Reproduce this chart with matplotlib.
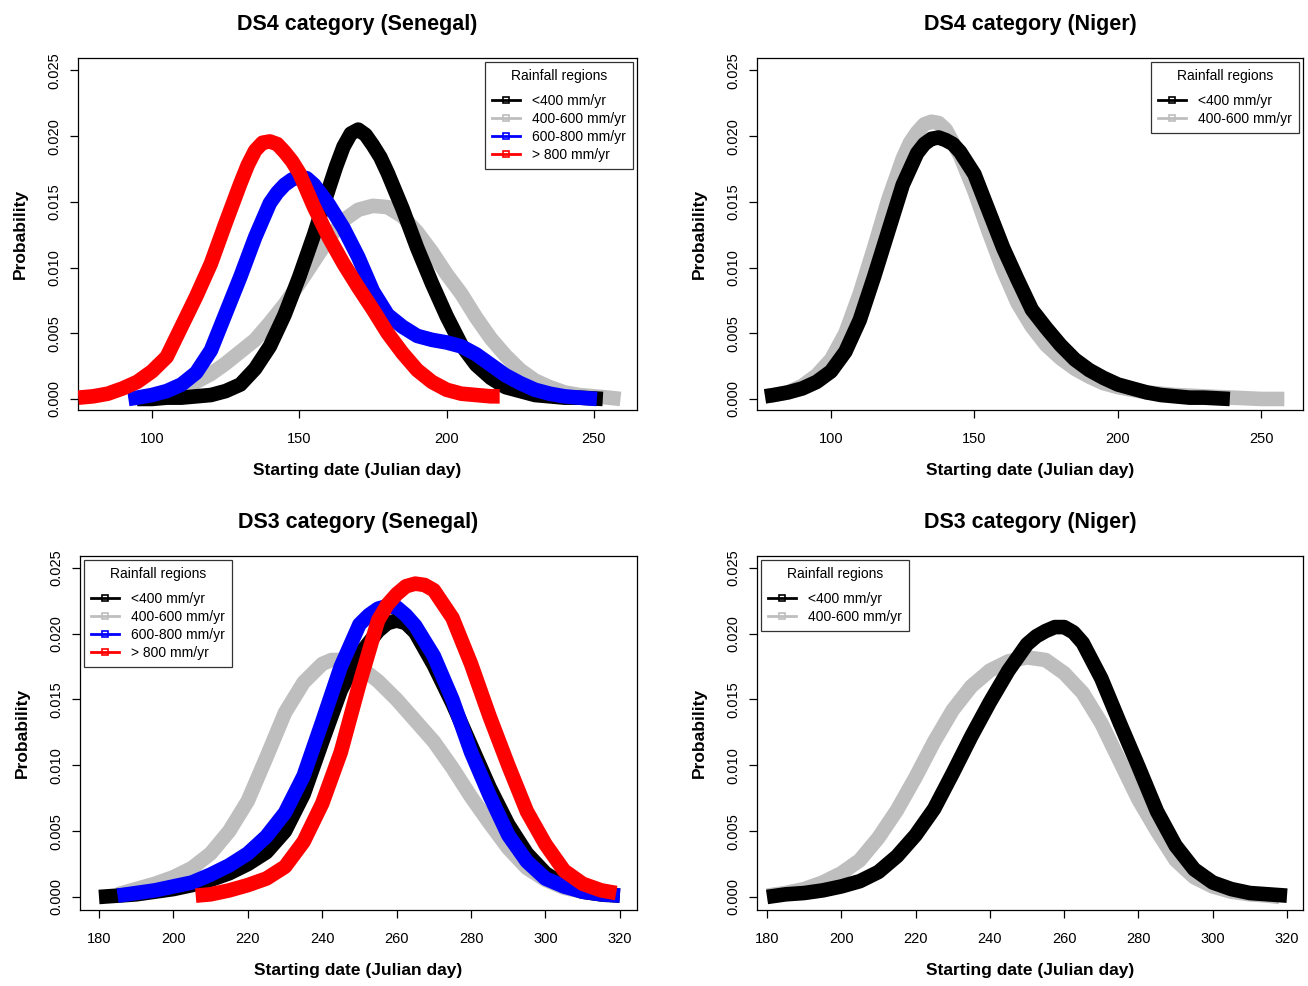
import matplotlib
matplotlib.use("Agg")
import matplotlib.pyplot as plt
from matplotlib.lines import Line2D

plt.rcParams['font.family'] = ['Liberation Sans', 'DejaVu Sans']

# ---------------- data ----------------
# DS4 Senegal
sen4_x_black = [95, 100, 105, 110, 115, 120, 125, 130, 135, 140, 145, 150, 155, 160, 162.5, 165, 167.5, 170,
                172.5, 175, 177.5, 180, 185, 190, 195, 200, 205, 210, 215, 220, 225, 230, 235, 240, 245, 253]
sen4_y_black = [0.0000, 0.0000, 0.0001, 0.0001, 0.0002, 0.0003, 0.0006, 0.0011, 0.0023, 0.0040, 0.0064,
                0.0093, 0.0125, 0.0160, 0.0177, 0.0192, 0.0202, 0.0205, 0.0201, 0.0193, 0.0184, 0.0172,
                0.0145, 0.0115, 0.0088, 0.0063, 0.0041, 0.0026, 0.0016, 0.0009, 0.0006, 0.0003, 0.0002,
                0.0001, 0.0001, 0.0000]
sen4_x_gray = [95, 100, 105, 110, 115, 120, 125, 130, 135, 140, 145, 150, 155, 160, 165, 170, 175, 180,
               185, 190, 195, 200, 205, 210, 215, 220, 225, 230, 235, 240, 245, 250, 255, 259]
sen4_y_gray = [0.0000, 0.0002, 0.0004, 0.0008, 0.0013, 0.0019, 0.0027, 0.0036, 0.0045, 0.0058, 0.0072,
               0.0088, 0.0105, 0.0122, 0.0136, 0.0144, 0.0147, 0.0146, 0.0139, 0.0127, 0.0112, 0.0095,
               0.0080, 0.0062, 0.0046, 0.0033, 0.0022, 0.0014, 0.0009, 0.0005, 0.0003, 0.0002, 0.0001, 0.0000]
sen4_x_blue = [92, 95, 100, 105, 110, 115, 120, 125, 130, 135, 140, 142.5, 145, 147.5, 150, 152.5, 155, 160,
               165, 170, 175, 180, 185, 190, 195, 200, 205, 210, 215, 220, 225, 230, 235, 240, 245, 251]
sen4_y_blue = [0.0000, 0.0001, 0.0003, 0.0006, 0.0011, 0.0020, 0.0037, 0.0065, 0.0093, 0.0123, 0.0149,
               0.0157, 0.0163, 0.0167, 0.0169, 0.0168, 0.0163, 0.0148, 0.0130, 0.0108, 0.0082, 0.0064,
               0.0055, 0.0048, 0.0045, 0.0043, 0.0040, 0.0034, 0.0026, 0.0018, 0.0012, 0.0007, 0.0004,
               0.0002, 0.0001, 0.0000]
sen4_x_red = [75, 80, 85, 90, 95, 100, 105, 110, 115, 120, 125, 130, 132.5, 135, 137.5, 140, 142.5, 145,
              147.5, 150, 155, 160, 165, 170, 175, 180, 185, 190, 195, 200, 205, 210, 215, 218]
sen4_y_red = [0.0001, 0.0002, 0.0004, 0.0008, 0.0013, 0.0021, 0.0032, 0.0055, 0.0078, 0.0103, 0.0134,
              0.0164, 0.0178, 0.0189, 0.0195, 0.0196, 0.0194, 0.0188, 0.0181, 0.0172, 0.0146, 0.0123,
              0.0103, 0.0085, 0.0068, 0.0050, 0.0035, 0.0022, 0.0013, 0.0007, 0.0004, 0.0003, 0.0002, 0.0002]

# DS4 Niger
nig4_x_black = [77, 80, 85, 90, 95, 100, 105, 110, 115, 120, 125, 130, 132.5, 135, 137.5, 140, 142.5, 145,
                150, 155, 160, 165, 170, 175, 180, 185, 190, 195, 200, 205, 210, 215, 220, 225, 230, 239]
nig4_y_black = [0.0002, 0.0003, 0.0005, 0.0008, 0.0013, 0.0021, 0.0036, 0.0060, 0.0093, 0.0128, 0.0163,
                0.0187, 0.0194, 0.0198, 0.0199, 0.0197, 0.0194, 0.0188, 0.0171, 0.0143, 0.0115, 0.0091,
                0.0068, 0.0054, 0.0041, 0.0030, 0.0022, 0.0016, 0.0011, 0.0008, 0.0005, 0.0003, 0.0002,
                0.0001, 0.0001, 0.0000]
nig4_x_gray = [77, 80, 85, 90, 95, 100, 105, 110, 115, 120, 125, 127.5, 130, 132.5, 135, 137.5, 140, 145,
               150, 155, 160, 165, 170, 175, 180, 185, 190, 195, 200, 210, 220, 230, 240, 250, 258]
nig4_y_gray = [0.0002, 0.0003, 0.0005, 0.0010, 0.0018, 0.0030, 0.0050, 0.0080, 0.0115, 0.0152, 0.0183,
               0.0195, 0.0203, 0.0209, 0.0211, 0.0210, 0.0205, 0.0185, 0.0158, 0.0127, 0.0098, 0.0073,
               0.0055, 0.0041, 0.0031, 0.0023, 0.0017, 0.0012, 0.0009, 0.0005, 0.0003, 0.0002, 0.0001,
               0.0000, 0.0000]

# DS3 Senegal
sen3_x_black = [180, 185, 190, 195, 200, 205, 210, 215, 220, 225, 230, 235, 240, 245, 250, 255, 257.5, 260,
                262.5, 265, 270, 275, 280, 285, 290, 295, 300, 305, 310, 315, 320]
sen3_y_black = [0.0000, 0.0001, 0.0002, 0.0004, 0.0006, 0.0009, 0.0013, 0.0018, 0.0025, 0.0034, 0.0050,
                0.0078, 0.0118, 0.0157, 0.0184, 0.0202, 0.0208, 0.0210, 0.0208, 0.0201, 0.0176, 0.0147,
                0.0115, 0.0083, 0.0055, 0.0033, 0.0018, 0.0009, 0.0004, 0.0002, 0.0001]
sen3_x_gray = [185, 190, 195, 200, 205, 210, 215, 220, 225, 230, 235, 240, 242.5, 245, 247.5, 250, 255,
               260, 265, 270, 275, 280, 285, 290, 295, 300, 305, 310, 315, 317]
sen3_y_gray = [0.0002, 0.0006, 0.0010, 0.0015, 0.0022, 0.0033, 0.0050, 0.0073, 0.0106, 0.0140, 0.0163,
               0.0177, 0.0180, 0.0180, 0.0178, 0.0175, 0.0164, 0.0150, 0.0134, 0.0118, 0.0098, 0.0076,
               0.0056, 0.0037, 0.0022, 0.0013, 0.0007, 0.0004, 0.0002, 0.0001]
sen3_x_blue = [185, 190, 195, 200, 205, 210, 215, 220, 225, 230, 235, 240, 245, 250, 252.5, 255, 257.5,
               260, 262.5, 265, 270, 275, 280, 285, 290, 295, 300, 305, 310, 315, 320]
sen3_y_blue = [0.0001, 0.0003, 0.0005, 0.0008, 0.0011, 0.0017, 0.0024, 0.0033, 0.0046, 0.0064, 0.0092,
               0.0133, 0.0175, 0.0207, 0.0214, 0.0219, 0.0221, 0.0220, 0.0214, 0.0206, 0.0183, 0.0150,
               0.0110, 0.0077, 0.0047, 0.0027, 0.0014, 0.0008, 0.0004, 0.0002, 0.0001]
sen3_x_red = [206, 210, 215, 220, 225, 230, 235, 240, 245, 250, 255, 257.5, 260, 262.5, 265, 267.5, 270,
              275, 280, 285, 290, 295, 300, 305, 310, 315, 319]
sen3_y_red = [0.0001, 0.0002, 0.0005, 0.0009, 0.0014, 0.0023, 0.0042, 0.0071, 0.0110, 0.0162, 0.0210,
              0.0222, 0.0230, 0.0236, 0.0238, 0.0237, 0.0233, 0.0212, 0.0177, 0.0137, 0.0100, 0.0065,
              0.0040, 0.0020, 0.0010, 0.0005, 0.0003]

# DS3 Niger
nig3_x_black = [180, 185, 190, 195, 200, 205, 210, 215, 220, 225, 230, 235, 240, 245, 250, 252.5, 255,
                257.5, 260, 262.5, 265, 270, 275, 280, 285, 290, 295, 300, 305, 310, 315, 320]
nig3_y_black = [0.0000, 0.0002, 0.0003, 0.0005, 0.0008, 0.0012, 0.0019, 0.0031, 0.0047, 0.0067, 0.0094,
                0.0122, 0.0148, 0.0172, 0.0192, 0.0198, 0.0202, 0.0205, 0.0205, 0.0201, 0.0193, 0.0166,
                0.0132, 0.0099, 0.0065, 0.0039, 0.0021, 0.0011, 0.0006, 0.0003, 0.0002, 0.0001]
nig3_x_gray = [180, 185, 190, 195, 200, 205, 210, 215, 220, 225, 230, 235, 240, 245, 250, 255, 260, 265,
               270, 275, 280, 285, 290, 295, 300, 305, 310, 315, 318]
nig3_y_gray = [0.0001, 0.0003, 0.0006, 0.0011, 0.0018, 0.0028, 0.0045, 0.0066, 0.0091, 0.0118, 0.0142,
               0.0160, 0.0172, 0.0179, 0.0182, 0.0180, 0.0170, 0.0155, 0.0132, 0.0103, 0.0074, 0.0050,
               0.0028, 0.0015, 0.0008, 0.0004, 0.0002, 0.0001, 0.0000]

series_labels = ["<400 mm/yr", "400-600 mm/yr", "600-800 mm/yr", "> 800 mm/yr"]
series_colors = ["black", "#BEBEBE", "#0000FF", "#FF0000"]
titles = ["DS4 category (Senegal)", "DS4 category (Niger)",
          "DS3 category (Senegal)", "DS3 category (Niger)"]
yticks = [0.000, 0.005, 0.010, 0.015, 0.020, 0.025]
ytick_labels = ["0.000", "0.005", "0.010", "0.015", "0.020", "0.025"]
xticks_ds4 = [100, 150, 200, 250]
xticks_ds3 = [180, 200, 220, 240, 260, 280, 300, 320]

# ---------------- figure ----------------
W, H = 1308, 986
fig = plt.figure(figsize=(W / 100, H / 100), dpi=100)


def ax_px(l, t, r, b):
    return fig.add_axes([l / W, 1 - b / H, (r - l) / W, (b - t) / H])


zorders = [3, 2, 4, 5]


def panel(ax, data, title, xlim, ylim, xticks, legend_loc):
    for i, (xs, ys) in enumerate(data):
        ax.plot(xs, ys, color=series_colors[i], lw=10.5, solid_capstyle='butt',
                solid_joinstyle='round', zorder=zorders[i])
    ax.set_xlim(*xlim)
    ax.set_ylim(*ylim)
    ax.set_xticks(xticks)
    ax.set_xticklabels([str(t) for t in xticks], fontsize=10.5)
    ax.set_yticks(yticks)
    ax.set_yticklabels(ytick_labels, fontsize=10.5, rotation=90, va='center')
    ax.tick_params(direction='out', length=6, width=0.9, pad=6)
    ax.tick_params(axis='x', pad=10)
    for s in ax.spines.values():
        s.set_linewidth(0.9)
    ax.set_title(title, fontsize=15.5, fontweight='bold', pad=20)
    ax.set_xlabel("Starting date (Julian day)", fontsize=12.5, fontweight='bold', labelpad=12)
    ax.set_ylabel("Probability", fontsize=12.5, fontweight='bold', labelpad=14)
    n = len(data)
    handles = [Line2D([0], [0], color=series_colors[i], lw=2, marker='s', markersize=4,
                      markerfacecolor='none', markeredgewidth=1.2) for i in range(n)]
    leg = ax.legend(handles, series_labels[:n], title="Rainfall regions", loc=legend_loc,
                    fontsize=10, title_fontsize=10, frameon=True, fancybox=False,
                    edgecolor='black', handlelength=2.0, handletextpad=0.9,
                    borderaxespad=0.3, labelspacing=0.28, borderpad=0.5)
    leg._legend_box.sep = 8
    leg.get_frame().set_linewidth(0.9)


ax1 = ax_px(78, 58, 637, 410)
panel(ax1, [(sen4_x_black, sen4_y_black), (sen4_x_gray, sen4_y_gray),
            (sen4_x_blue, sen4_y_blue), (sen4_x_red, sen4_y_red)],
      titles[0], (74.9, 264.6), (-0.00084, 0.02595), xticks_ds4, 'upper right')

ax2 = ax_px(757, 58, 1303, 410)
panel(ax2, [(nig4_x_black, nig4_y_black), (nig4_x_gray, nig4_y_gray)],
      titles[1], (74.2, 264.5), (-0.00084, 0.02595), xticks_ds4, 'upper right')

ax3 = ax_px(80, 556, 637, 910)
panel(ax3, [(sen3_x_black, sen3_y_black), (sen3_x_gray, sen3_y_gray),
            (sen3_x_blue, sen3_y_blue), (sen3_x_red, sen3_y_red)],
      titles[2], (174.9, 324.6), (-0.00099, 0.0259), xticks_ds3, 'upper left')

ax4 = ax_px(757, 556, 1303, 910)
panel(ax4, [(nig3_x_black, nig3_y_black), (nig3_x_gray, nig3_y_gray)],
      titles[3], (177.3, 324.3), (-0.00099, 0.0259), xticks_ds3, 'upper left')

fig.savefig("out.png", dpi=100)
